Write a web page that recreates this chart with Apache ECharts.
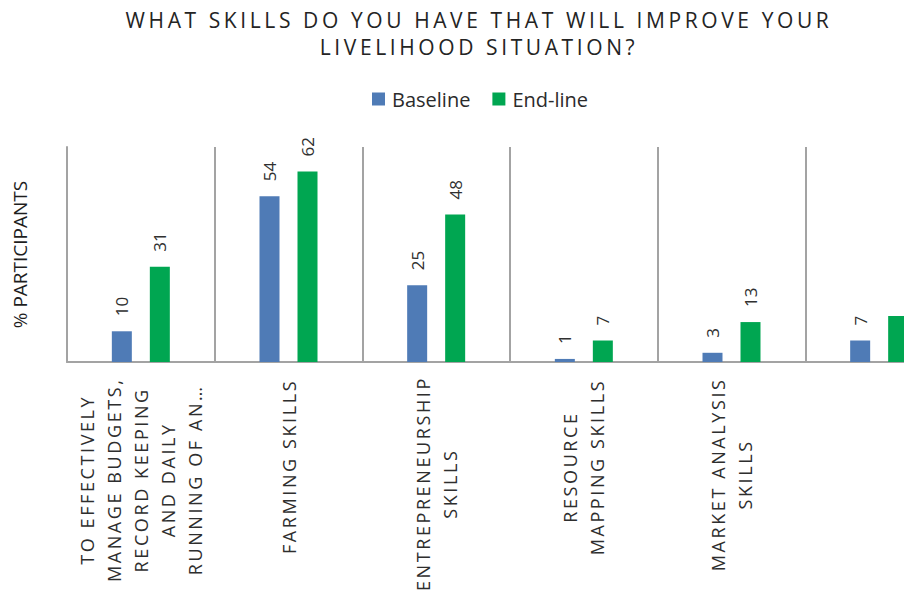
<!DOCTYPE html>
<html>
<head>
<meta charset="utf-8">
<script src="https://cdn.jsdelivr.net/npm/echarts@6/dist/echarts.min.js"></script>
<style>
  html, body { margin: 0; padding: 0; background: #ffffff; }
  #chart { width: 904px; height: 590px; }
  /* tracked capitals for the heading and the category names */
  #chart svg text[fill="#242424"] { letter-spacing: 3.6px; }
  #chart svg text[fill="#2e2e2e"] { letter-spacing: 2.6px; }
</style>
</head>
<body>
<div id="chart"></div>
<script>
// Survey question and series names
const titleText = 'WHAT SKILLS DO YOU HAVE THAT WILL IMPROVE YOUR\nLIVELIHOOD SITUATION?';
const seriesNames = ['Baseline', 'End-line'];

// Skill categories (line breaks as they wrap under the axis)
const categories = [
  'TO EFFECTIVELY\nMANAGE BUDGETS,\nRECORD KEEPING\nAND DAILY\nRUNNING OF AN\u2026',
  'FARMING SKILLS',
  'ENTREPRENEURSHIP\nSKILLS',
  'RESOURCE\nMAPPING SKILLS',
  'MARKET ANALYSIS\nSKILLS',
  ''
];

// % of participants per skill
const baseline = [10, 54, 25, 1, 3, 7];
const endline = [31, 62, 48, 7, 13, 15];

const FONT = '"Open Sans", "Liberation Sans", sans-serif';
const GRID_GRAY = '#a3a3a3';
const BLUE = '#4f7bb6';
const GREEN = '#00a651';

const chart = echarts.init(document.getElementById('chart'), null, { renderer: 'svg' });

const valueLabel = {
  show: true,
  position: 'top',
  rotate: 90,
  align: 'left',
  verticalAlign: 'middle',
  distance: 15,
  fontFamily: FONT,
  fontSize: 17,
  color: '#303030'
};

chart.setOption({
  animation: false,
  backgroundColor: '#ffffff',
  title: {
    text: titleText,
    left: 479,
    top: 6,
    padding: 0,
    textAlign: 'center',
    textStyle: {
      fontFamily: FONT,
      fontSize: 21,
      fontWeight: 'normal',
      color: '#242424',
      lineHeight: 27
    }
  },
  legend: {
    data: seriesNames,
    left: 372,
    top: 89,
    padding: 0,
    itemWidth: 13,
    itemHeight: 13,
    itemGap: 22,
    icon: 'rect',
    textStyle: {
      fontFamily: FONT,
      fontSize: 20,
      color: '#2b2b2b',
      padding: [0, 0, 0, 2]
    }
  },
  grid: {
    left: 67,
    top: 147,
    width: 886,
    height: 215,
    containLabel: false,
    outerBoundsMode: 'none'
  },
  xAxis: {
    type: 'category',
    data: categories,
    boundaryGap: true,
    axisLine: { show: true, lineStyle: { color: GRID_GRAY, width: 2 } },
    axisTick: { show: false },
    splitLine: { show: true, lineStyle: { color: GRID_GRAY, width: 2 } },
    axisLabel: {
      interval: 0,
      rotate: 90,
      margin: 35,
      fontFamily: FONT,
      fontSize: 18,
      color: '#2e2e2e',
      formatter: function (v) {
        return v.split('\n').map(function (line) { return '{c|' + line + '}'; }).join('\n');
      },
      rich: {
        c: {
          align: 'center',
          fontFamily: FONT,
          fontSize: 18,
          color: '#2e2e2e',
          lineHeight: 27
        }
      }
    }
  },
  yAxis: {
    type: 'value',
    min: 0,
    max: 70,
    name: '% PARTICIPANTS',
    nameLocation: 'middle',
    nameGap: 38,
    nameRotate: 90,
    nameTextStyle: {
      fontFamily: FONT,
      fontSize: 19,
      color: '#1e1e1e'
    },
    axisLine: { show: true, lineStyle: { color: GRID_GRAY, width: 2 } },
    axisTick: { show: false },
    axisLabel: { show: false },
    splitLine: { show: false }
  },
  series: [
    {
      name: seriesNames[0],
      type: 'bar',
      data: baseline,
      barWidth: 20,
      barGap: '90%',
      itemStyle: { color: BLUE },
      label: valueLabel
    },
    {
      name: seriesNames[1],
      type: 'bar',
      data: endline.map(function (v, i) {
        return i === endline.length - 1 ? { value: v, label: { show: false } } : v;
      }),
      barWidth: 20,
      barGap: '90%',
      itemStyle: { color: GREEN },
      label: valueLabel
    }
  ]
});
</script>
</body>
</html>
